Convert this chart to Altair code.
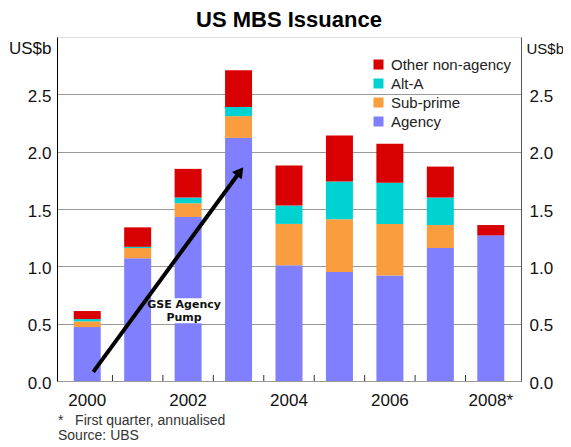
import altair as alt
import pandas as pd

years = [2000, 2001, 2002, 2003, 2004, 2005, 2006, 2007, 2008]
agency = [0.47, 1.07, 1.43, 2.12, 1.01, 0.95, 0.92, 1.16, 1.27]
subprime = [0.05, 0.09, 0.12, 0.19, 0.36, 0.46, 0.45, 0.20, 0.00]
alt_a = [0.02, 0.01, 0.05, 0.08, 0.16, 0.33, 0.36, 0.24, 0.00]
other = [0.07, 0.17, 0.25, 0.32, 0.35, 0.40, 0.34, 0.27, 0.09]

series_names = ["Other non-agency", "Alt-A", "Sub-prime", "Agency"]
series_colors = ["#D80000", "#00D2D2", "#F99D3E", "#8080FF"]

y_ticks = [0.0, 0.5, 1.0, 1.5, 2.0, 2.5]
x_label_years = [2000, 2002, 2004, 2006, 2008]
x_label_text = ["2000", "2002", "2004", "2006", "2008*"]
boundaries = [2000.5, 2001.5, 2002.5, 2003.5, 2004.5, 2005.5, 2006.5, 2007.5]

arrow_x = [2000.12, 2003.03]
arrow_y = [0.08, 1.827]
arrow_angle = 37
note_text = ["GSE Agency", "Pump"]
note_x = 2001.92
note_y = [0.66, 0.553]
note_box = {"x": 2001.27, "x2": 2002.62, "y": 0.504, "y2": 0.722}

footnotes = ["*\u00a0\u00a0\u00a0First quarter, annualised", "Source: UBS"]

rows = []
for i, yr in enumerate(years):
    for name, vals, o in [("Agency", agency, 0), ("Sub-prime", subprime, 1),
                          ("Alt-A", alt_a, 2), ("Other non-agency", other, 3)]:
        rows.append({"year": yr, "series": name, "value": vals[i], "order": o})
df = pd.DataFrame(rows)

W, H = 464, 344
FONT = "Liberation Sans"

xscale = alt.Scale(domain=[1999.5, 2008.5], nice=False, zero=False)
yscale = alt.Scale(domain=[0, 3], nice=False)

left_axis = alt.Axis(values=y_ticks, format=".1f", title="US$b", titleAngle=0,
                     titleAlign="right", titleBaseline="middle", titleX=-6, titleY=11,
                     titleFontSize=17, titleFontWeight="normal", titleFont=FONT,
                     labelFontSize=17, labelFont=FONT, labelColor="#111", titleColor="#111",
                     ticks=False, labelPadding=6, grid=True, gridColor="#999",
                     domainColor="#000", labelBaseline="middle", labelOffset=2)
right_axis = alt.Axis(values=y_ticks, format=".1f", title="US$b", titleAngle=0,
                      titleAlign="left", titleBaseline="middle", titleX=5, titleY=11,
                      titleFontSize=15, titleFontWeight="normal", titleFont=FONT,
                      labelFontSize=17, labelFont=FONT, labelColor="#111", titleColor="#111",
                      ticks=False, labelPadding=8, grid=False, orient="right",
                      domainColor="#555", labelBaseline="middle", labelOffset=2)
x_axis = alt.Axis(values=x_label_years, labels=False, title=None, ticks=False,
                  grid=False, domainColor="#000")

bars = alt.Chart(df).mark_bar(width=27).encode(
    x=alt.X("year:Q", scale=xscale, axis=x_axis),
    y=alt.Y("value:Q", stack="zero", scale=yscale, axis=left_axis),
    color=alt.Color("series:N", scale=alt.Scale(domain=series_names, range=series_colors),
                    legend=alt.Legend(title=None, orient="none", legendX=314, legendY=20,
                                      symbolType="square", symbolSize=100,
                                      symbolStrokeWidth=0, labelFontSize=15,
                                      labelFont=FONT, labelColor="#222",
                                      labelOffset=5, rowPadding=3)),
    order=alt.Order("order:Q", sort="ascending"),
)

xl_df = pd.DataFrame({"yr": x_label_years, "t": x_label_text})
xlabels = alt.Chart(xl_df).mark_text(font=FONT, fontSize=17, color="#111",
                                     baseline="middle").encode(
    x=alt.X("yr:Q", scale=xscale, axis=None),
    y=alt.value(H + 20),
    text="t:N",
)

ticks_df = pd.DataFrame({"b": boundaries})
bticks = alt.Chart(ticks_df).mark_rule(color="#333", strokeWidth=1).encode(
    x=alt.X("b:Q", scale=xscale, axis=None),
    y=alt.value(H), y2=alt.value(H - 6),
)

box_df = pd.DataFrame([note_box])
box = alt.Chart(box_df).mark_rect(color="white").encode(
    x=alt.X("x:Q", scale=xscale, axis=None), x2="x2:Q",
    y=alt.Y("y:Q", scale=yscale, axis=None), y2="y2:Q",
)

arrow_df = pd.DataFrame({"x": arrow_x, "y": arrow_y})
arrow_line = alt.Chart(arrow_df).mark_line(color="black", strokeWidth=4).encode(
    x=alt.X("x:Q", scale=xscale, axis=None),
    y=alt.Y("y:Q", scale=yscale, axis=right_axis),
)
head_df = arrow_df.tail(1)
arrow_head = alt.Chart(head_df).mark_point(shape="triangle-up", filled=True, size=150,
                                           color="black", opacity=1,
                                           angle=arrow_angle).encode(
    x=alt.X("x:Q", scale=xscale, axis=None),
    y=alt.Y("y:Q", scale=yscale, axis=None),
)

note_df = pd.DataFrame({"t": note_text, "x": [note_x, note_x], "y": note_y})
note = alt.Chart(note_df).mark_text(font="DejaVu Sans", fontWeight="bold", fontSize=11,
                                    color="#111").encode(
    x=alt.X("x:Q", scale=xscale, axis=None),
    y=alt.Y("y:Q", scale=yscale, axis=None),
    text="t:N",
)

foot_df = pd.DataFrame({"t": footnotes, "yy": [H + 40, H + 55]})
foot = alt.Chart(foot_df).mark_text(font=FONT, fontSize=14, color="#333", align="left",
                                    baseline="middle").encode(
    x=alt.value(1),
    y=alt.Y("yy:Q", scale=None, axis=None),
    text="t:N",
)

chart = alt.layer(bars, xlabels, bticks, box, arrow_line, arrow_head, note, foot).resolve_axis(
    y="independent"
).properties(
    width=W, height=H,
    title=alt.TitleParams("US MBS Issuance", fontSize=22, font=FONT, fontWeight="bold",
                          anchor="middle", color="#000", offset=5),
    autosize=alt.AutoSizeParams(type="none"),
    padding={"left": 49, "top": 29, "right": 42, "bottom": 64},
).configure_view(stroke="#666", strokeWidth=1).configure(background="white")

chart.save("out.html", embed_options={"renderer": "svg", "actions": False})
